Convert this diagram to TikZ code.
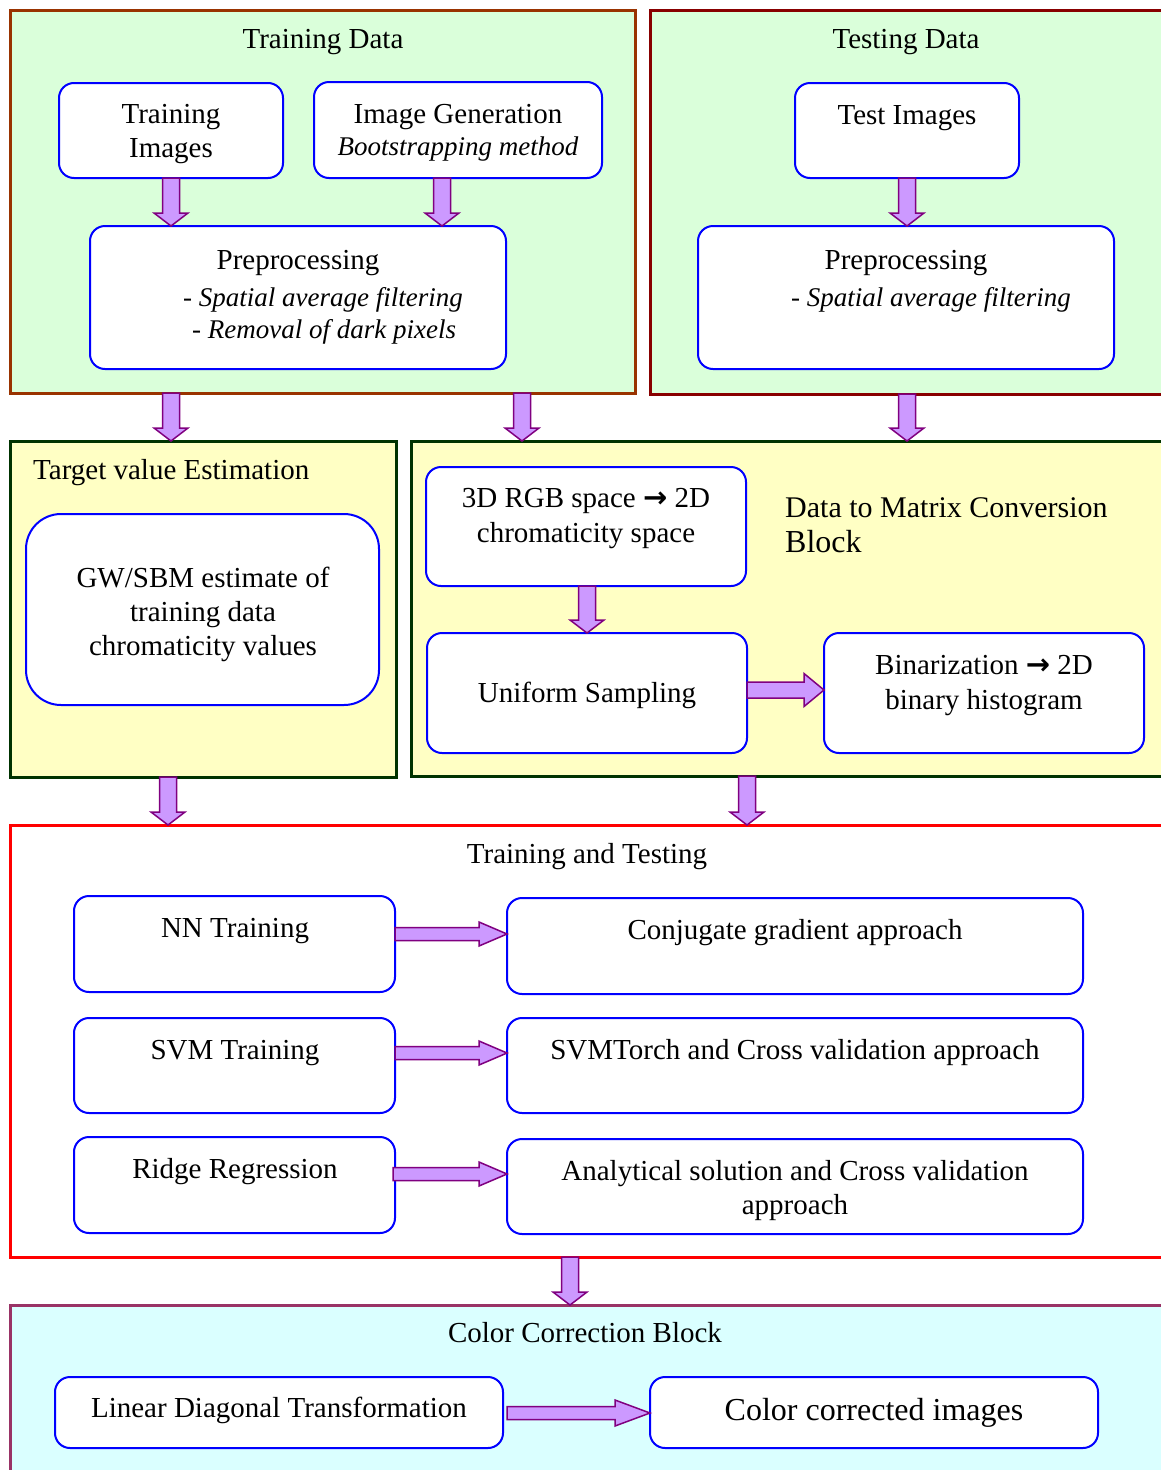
\documentclass[tikz,border=0pt]{standalone}
\usepackage{fontspec}
\setmainfont{Liberation Serif}
\newfontfamily\arrowfont{DejaVu Sans}
\usetikzlibrary{calc}
\definecolor{brownb}{HTML}{993300}
\definecolor{redb}{HTML}{880000}
\definecolor{greenb}{HTML}{003300}
\definecolor{pinkb}{HTML}{993366}
\definecolor{greenfill}{HTML}{DAFFDA}
\definecolor{yellowfill}{HTML}{FFFFC4}
\definecolor{cyanfill}{HTML}{DAFFFF}
\definecolor{arrfill}{HTML}{CC99FF}
\definecolor{arrdraw}{HTML}{800080}
\tikzset{
  outerbox/.style={rectangle, draw, line width=3pt, inner sep=0pt, outer sep=0pt},
  box/.style={rectangle, rounded corners=15pt, draw=blue, line width=2pt, fill=white, inner sep=0pt, outer sep=0pt},
  txt/.style={anchor=base, inner sep=0pt, font=\fontsize{29}{34}\selectfont},
  txtw/.style={anchor=base west, inner sep=0pt, font=\fontsize{29}{34}\selectfont},
  itxt/.style={anchor=base west, inner sep=0pt, font=\fontsize{27}{32}\selectfont},
  barrow/.style={fill=arrfill, draw=arrdraw, line width=1.5pt, line join=miter}
}
\newcommand\darrowblock[2]{%
  \draw[barrow] let \p1=(#1), \p2=(#2) in
    (\x1-8.5pt,\y1) -- (\x1-8.5pt,\y2+13pt) -- (\x1-17pt,\y2+13pt) -- (\x1,\y2)
    -- (\x1+17pt,\y2+13pt) -- (\x1+8.5pt,\y2+13pt) -- (\x1+8.5pt,\y1) -- cycle;}
\newcommand\rarrowblock[5]{%
  \draw[barrow] let \p1=(#1), \p2=(#2) in
    (\x1,\y1+#3) -- (\x2-#5,\y1+#3) -- (\x2-#5,\y1+#4) -- (\x2,\y1)
    -- (\x2-#5,\y1-#4) -- (\x2-#5,\y1-#3) -- (\x1,\y1-#3) -- cycle;}
\newcommand\rarr{{\arrowfont\bfseries →}}
\begin{document}
\begin{tikzpicture}[x=1pt,y=-1pt]
\useasboundingbox (0,0) rectangle (1161,1470);
\clip (0,0) rectangle (1161,1470);
\fill[white] (0,0) rectangle (1161,1470);

% outer blocks
\node[outerbox, draw=brownb, fill=greenfill, minimum width=625, minimum height=383] (trd) at (322.5,201.5) {};
\node[outerbox, draw=redb, fill=greenfill, minimum width=520, minimum height=384] (tsd) at (910,202) {};
\node[outerbox, draw=greenb, fill=yellowfill, minimum width=386, minimum height=336] (tve) at (203,609) {};
\node[outerbox, draw=greenb, fill=yellowfill, minimum width=759, minimum height=335] (dm) at (790.5,608.5) {};
\node[outerbox, draw=red, fill=white, minimum width=1160, minimum height=432] (tt) at (590,1041) {};
\node[outerbox, draw=pinkb, fill=cyanfill, minimum width=1160, minimum height=175] (cc) at (590,1392.5) {};

% inner boxes
\node[box, minimum width=224, minimum height=95] (ti) at (171,130.5) {};
\node[box, minimum width=288, minimum height=96] (ig) at (458,130) {};
\node[box, minimum width=416, minimum height=143] (pre1) at (298,297.5) {};
\node[box, minimum width=224, minimum height=95] (tim) at (907,130.5) {};
\node[box, minimum width=416, minimum height=143] (pre2) at (906,297.5) {};
\node[box, rounded corners=35pt, minimum width=353, minimum height=191] (gw) at (202.5,609.5) {};
\node[box, minimum width=320, minimum height=119] (rgb) at (586,526.5) {};
\node[box, minimum width=320, minimum height=120] (us) at (587,693) {};
\node[box, minimum width=320, minimum height=120] (bin) at (984,693) {};
\node[box, minimum width=321, minimum height=96] (nn) at (234.5,944) {};
\node[box, minimum width=576, minimum height=96] (cg) at (795,946) {};
\node[box, minimum width=321, minimum height=95] (svm) at (234.5,1065.5) {};
\node[box, minimum width=576, minimum height=95] (svt) at (795,1065.5) {};
\node[box, minimum width=321, minimum height=96] (rr) at (234.5,1185) {};
\node[box, minimum width=576, minimum height=95] (an) at (795,1186.5) {};
\node[box, minimum width=448, minimum height=71] (ldt) at (279,1412.5) {};
\node[box, minimum width=448, minimum height=71] (cci) at (874,1412.5) {};

% texts
\node[txt] (t1) at (323,48) {Training Data};
\node[txt] (t2) at (171,123) {Training};
\node[txt] (t3) at (171,157) {Images};
\node[txt] (t4) at (458,123) {Image Generation};
\node[txt, font=\fontsize{27}{32}\selectfont\itshape] (t5) at (458,155) {Bootstrapping method};
\node[txt] (t6) at (298,269) {Preprocessing};
\node[itxt] (t7) at (183,306) {- \itshape Spatial average filtering};
\node[itxt] (t8) at (192,338) {- \itshape Removal of dark pixels};
\node[txt] (t9) at (906,48) {Testing Data};
\node[txt] (t10) at (907,124) {Test Images};
\node[txt] (t11) at (906,269) {Preprocessing};
\node[itxt] (t12) at (791,306) {- \itshape Spatial average filtering};
\node[txtw] (t13) at (33,479) {Target value Estimation};
\node[txt] (t14) at (203,587) {GW/SBM estimate of};
\node[txt] (t15) at (203,621) {training data};
\node[txt] (t16) at (203,655) {chromaticity values};
\node[txtw, font=\fontsize{30}{35}\selectfont] (t17) at (785,517) {Data to Matrix Conversion};
\node[txtw, font=\fontsize{32}{37}\selectfont] (t18) at (785,552) {Block};
\node[txt] (t19) at (586,507) {3D RGB space \rarr\ 2D};
\node[txt] (t20) at (586,542) {chromaticity space};
\node[txt] (t21) at (587,702) {Uniform Sampling};
\node[txt] (t22) at (984,674) {Binarization \rarr\ 2D};
\node[txt] (t23) at (984,709) {binary histogram};
\node[txt] (t24) at (587,863) {Training and Testing};
\node[txt] (t25) at (235,937) {NN Training};
\node[txt] (t26) at (795,939) {Conjugate gradient approach};
\node[txt] (t27) at (235,1059) {SVM Training};
\node[txt] (t28) at (795,1059) {SVMTorch and Cross validation approach};
\node[txt] (t29) at (235,1178) {Ridge Regression};
\node[txt] (t30) at (795,1180) {Analytical solution and Cross validation};
\node[txt] (t31) at (795,1214) {approach};
\node[txt] (t32) at (585,1342) {Color Correction Block};
\node[txt] (t33) at (279,1417) {Linear Diagonal Transformation};
\node[txt, font=\fontsize{32}{37}\selectfont] (t34) at (874,1420) {Color corrected images};

% arrows
\darrowblock{ti.south}{pre1.north}
\darrowblock{$(ig.south)+(-16,0)$}{pre1.north}
\darrowblock{tim.south}{pre2.north}
\darrowblock{trd.south -| ti.south}{tve.north}
\darrowblock{$(trd.south west)+(512,0)$}{dm.north}
\darrowblock{tsd.south -| tim.south}{dm.north}
\darrowblock{rgb.south -| us.south}{us.north}
\rarrowblock{$(us.east)+(0,-3)$}{bin.west}{8pt}{16.5pt}{20pt}
\darrowblock{$(tve.south west)+(158,0)$}{tt.north}
\darrowblock{dm.south -| us.east}{tt.north}
\rarrowblock{$(nn.east)+(0,-10)$}{cg.west}{6.5pt}{12pt}{28pt}
\rarrowblock{$(svm.east)+(0,-12.5)$}{svt.west}{6.5pt}{12pt}{28pt}
\rarrowblock{$(rr.east)+(-2,-11)$}{an.west}{6.5pt}{12pt}{28pt}
\darrowblock{$(tt.south west)+(560,0)$}{cc.north}
\rarrowblock{$(ldt.east)+(4,0.5)$}{cci.west}{6.5pt}{13pt}{35pt}
\end{tikzpicture}
\end{document}
